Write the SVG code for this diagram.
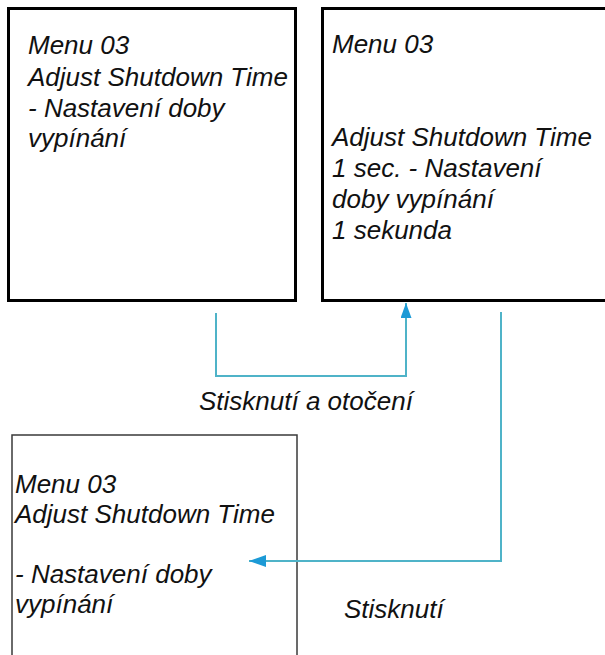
<svg xmlns="http://www.w3.org/2000/svg" width="605" height="655" viewBox="0 0 605 655">
<style>
.t{font-family:"Liberation Sans",Arial,sans-serif;font-style:italic;font-size:26px;fill:#111}
.box{fill:#fff;stroke:#000;stroke-width:3}
.thin{fill:#fff;stroke:#3a3a3a;stroke-width:1.5}
.con{fill:none;stroke:#4fb3c8;stroke-width:2}
</style>
<defs>
<marker id="ah" viewBox="0 0 10 10" refX="10" refY="5" markerWidth="15" markerHeight="11" markerUnits="userSpaceOnUse" orient="auto" preserveAspectRatio="none">
<path d="M0,0 L10,5 L0,10 Z" fill="#1c9ad6"/>
</marker>
<marker id="ah2" viewBox="0 0 10 10" refX="10" refY="5" markerWidth="17" markerHeight="12" markerUnits="userSpaceOnUse" orient="auto" preserveAspectRatio="none">
<path d="M0,0 L10,5 L0,10 Z" fill="#1c9ad6"/>
</marker>
</defs>
<rect width="605" height="655" fill="#fff"/>
<g id="node1">
<rect class="box" x="8.5" y="8.5" width="287" height="292"/>
<text class="t" x="28" y="54">Menu 03</text>
<text class="t" x="28" y="86">Adjust Shutdown Time</text>
<text class="t" x="28" y="117">- Nastavení doby</text>
<text class="t" x="28" y="147">vypínání</text>
</g>
<g id="node2">
<rect class="box" x="322.5" y="8.5" width="300" height="292"/>
<text class="t" x="332" y="53">Menu 03</text>
<text class="t" x="332" y="146">Adjust Shutdown Time</text>
<text class="t" x="332" y="177">1 sec. - Nastavení</text>
<text class="t" x="332" y="208">doby vypínání</text>
<text class="t" x="332" y="239">1 sekunda</text>
</g>
<g id="node3">
<rect class="thin" x="12" y="435" width="285" height="240"/>
<text class="t" x="15" y="493">Menu 03</text>
<text class="t" x="15" y="523">Adjust Shutdown Time</text>
<text class="t" x="15" y="583">- Nastavení doby</text>
<text class="t" x="15" y="613">vypínání</text>
</g>
<g id="connectors">
<path class="con" d="M216,313 V376 H406 V303" marker-end="url(#ah)"/>
<path class="con" d="M501,312 V561 H249" marker-end="url(#ah2)"/>
<text class="t" x="199" y="410">Stisknutí a otočení</text>
<text class="t" x="344" y="618">Stisknutí</text>
</g>
</svg>
